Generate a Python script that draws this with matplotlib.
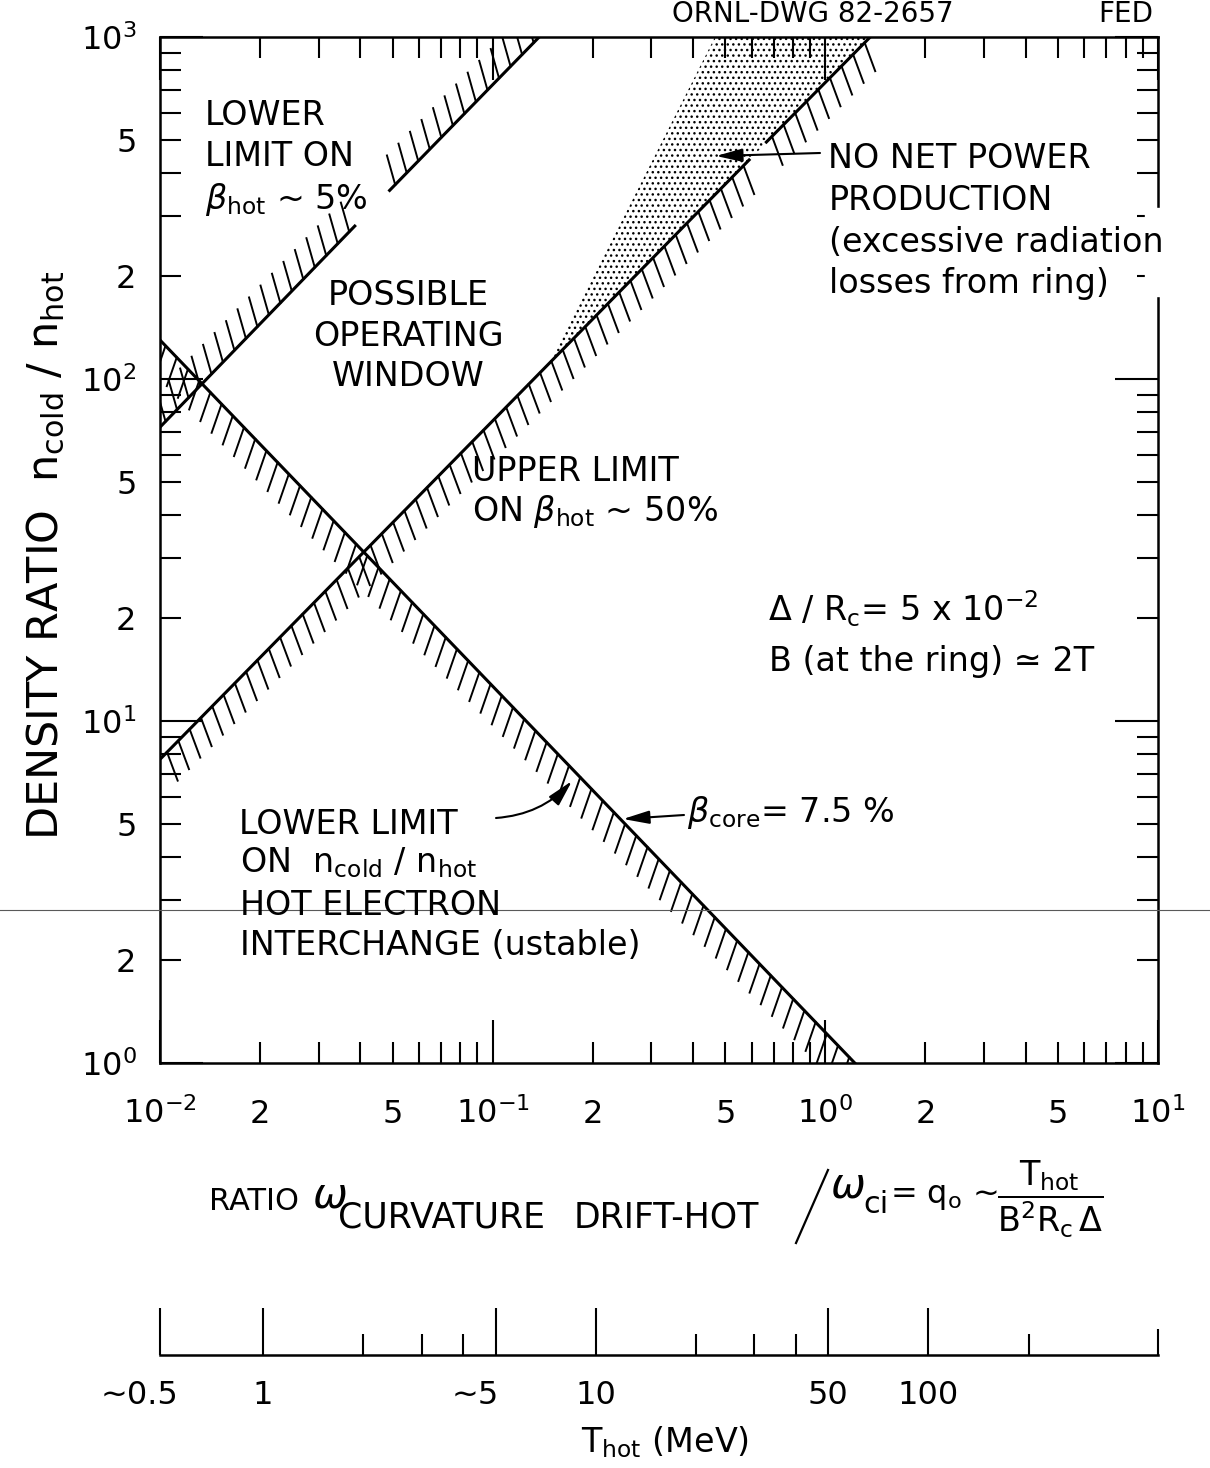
import matplotlib
matplotlib.use('Agg')
import matplotlib.pyplot as plt
from matplotlib import patheffects
from matplotlib.patches import Rectangle
from matplotlib.lines import Line2D

plt.rcParams['font.family'] = ['DejaVu Sans']
plt.rcParams['mathtext.fontset'] = 'dejavusans'
plt.rcParams['hatch.linewidth'] = 1.0

W, H = 1210, 1468

# boundary lines: x = ratio, y = n_cold/n_hot
lowbeta_x = [[0.0100, 0.0385], [0.049, 0.138]]      # beta_hot ~ 5 %
lowbeta_y = [[72.3, 280.0], [356.0, 1000.0]]
highbeta_x = [[0.0101, 0.59], [0.665, 1.365]]       # beta_hot ~ 50 %
highbeta_y = [[7.8, 437.0], [493.0, 1000.0]]
core_x = [0.0100, 1.226]                             # beta_core = 7.5 %
core_y = [130.0, 1.0]
# stippled wedge (no net power production)
nopower_x = [0.149, 0.466, 1.365]
nopower_y = [112.0, 1000.0, 1000.0]

x_major = [1e-2, 1e-1, 1e0, 1e1]
x_major_lbl = ['$10^{-2}$', '$10^{-1}$', '$10^{0}$', '$10^{1}$']
y_major = [1, 10, 100, 1000]
y_major_lbl = ['$10^{0}$', '$10^{1}$', '$10^{2}$', '$10^{3}$']
minor_lbl = {2: '2', 5: '5'}

# lower scale: T_hot (MeV) ~ 49 * ratio
t_factor = 49.0
t_major = [0.49, 1, 5, 10, 50, 100]
t_major_lbl = ['~0.5', '1', '~5', '10', '50', '100']
t_minor = [2, 3, 4, 20, 30, 40, 200, 490]


def fx(px):
    return px / W


def fy(py):
    return 1 - py / H


def put(px, py, s, size=24, **kw):
    kw.setdefault('va', 'baseline')
    return fig.text(fx(px), fy(py), s, fontsize=size, **kw)


def arrow(x0, y0, x1, y1, rad=0.0):
    ax.annotate('', xy=(x1, H - y1), xycoords='figure pixels',
                xytext=(x0, H - y0), textcoords='figure pixels',
                annotation_clip=False,
                arrowprops=dict(arrowstyle='-|>,head_length=0.8,head_width=0.2',
                                color='k', lw=1.5, mutation_scale=20,
                                shrinkA=0, shrinkB=0,
                                connectionstyle='arc3,rad=%s' % rad))


fig = plt.figure(figsize=(W / 100, H / 100), dpi=100)
ax = fig.add_axes([fx(160), fy(1063), (1158 - 160) / W, (1063 - 37) / H])
ax.set_xscale('log')
ax.set_yscale('log')
ax.set_xlim(1e-2, 1e1)
ax.set_ylim(1, 1e3)

ax.fill(nopower_x, nopower_y, facecolor='none', edgecolor='k',
        hatch='...', linewidth=0, zorder=1)

pe_low = [patheffects.withTickedStroke(angle=60, spacing=11.5, length=1.9, linewidth=1.4)]
pe_high = [patheffects.withTickedStroke(angle=-115, spacing=11.5, length=1.9, linewidth=1.4)]
pe_core = [patheffects.withTickedStroke(angle=-63, spacing=11.5, length=1.9, linewidth=1.4)]

for xs, ys in zip(lowbeta_x, lowbeta_y):
    ax.plot(xs, ys, color='k', lw=2.2, path_effects=pe_low, zorder=3)
for xs, ys in zip(highbeta_x, highbeta_y):
    ax.plot(xs, ys, color='k', lw=2.2, path_effects=pe_high, zorder=3)
ax.plot(core_x, core_y, color='k', lw=2.2, path_effects=pe_core, zorder=3)

# ticks
x_minor = [m * 10.0 ** e for e in (-2, -1, 0) for m in range(2, 10)]
y_minor = [m * 10.0 ** e for e in (0, 1, 2) for m in range(2, 10)]
ax.set_xticks(x_major, x_major_lbl)
ax.set_xticks(x_minor, [minor_lbl.get(m, '') for e in (-2, -1, 0) for m in range(2, 10)], minor=True)
ax.set_yticks(y_major, y_major_lbl)
ax.set_yticks(y_minor, [minor_lbl.get(m, '') for e in (0, 1, 2) for m in range(2, 10)], minor=True)
ax.tick_params(which='both', direction='in', top=True, right=True, width=1.5, labelsize=23)
ax.tick_params(which='major', length=31)
ax.tick_params(which='minor', length=15)
ax.tick_params(axis='x', which='both', pad=43)
ax.tick_params(axis='y', which='both', pad=17)
plt.setp(ax.get_xticklabels(which='both'), va='baseline')
for sp in ax.spines.values():
    sp.set_linewidth(1.8)

# T_hot scale below
ax2 = fig.add_axes([fx(160), fy(1355), (1158 - 160) / W, 0.02])
ax2.set_xscale('log')
ax2.set_xlim(0.01 * t_factor, 10 * t_factor)
ax2.set_ylim(0, 1)
ax2.patch.set_visible(False)
for side in ('top', 'left', 'right'):
    ax2.spines[side].set_visible(False)
ax2.spines['bottom'].set_linewidth(1.8)
ax2.set_yticks([])
ax2.set_xticks(t_major, [''] * len(t_major))
ax2.set_xticks(t_minor, [''] * len(t_minor), minor=True)
ax2.tick_params(which='both', direction='in', width=1.5)
ax2.tick_params(which='major', length=34)
ax2.tick_params(which='minor', length=15)
ax2.xaxis.get_minor_ticks()[-1].tick1line.set_markersize(19)
for t, s in zip(t_major, t_major_lbl):
    dx = -15 if s.startswith('~') else 0
    ax2.annotate(s, xy=(t, 0), xycoords=ax2.get_xaxis_transform(),
                 xytext=(dx, -35), textcoords='offset points',
                 ha='center', va='baseline', fontsize=23)

# header
put(672, 22, 'ORNL-DWG 82-2657', size=20)
put(1098, 22, 'FED', size=20)

# labels inside the plot
put(205, 125, 'LOWER')
put(205, 166, 'LIMIT ON')
put(205, 209, r'$\beta_{\mathrm{hot}}$ ~ 5%')

put(408, 305, 'POSSIBLE', ha='center')
put(408, 346, 'OPERATING', ha='center')
put(408, 386, 'WINDOW', ha='center')

put(472, 481, 'UPPER LIMIT')
put(472, 521, r'ON $\beta_{\mathrm{hot}}$ ~ 50%')

put(828, 168, 'NO NET POWER')
put(829, 210, 'PRODUCTION')
put(829, 252, '(excessive radiation')
put(829, 293, 'losses from ring)')
fig.add_artist(Rectangle((fx(1145), fy(296)), 35 / W, 88 / H,
                         transform=fig.transFigure, color='w', zorder=2.5))
arrow(820, 153, 716, 156)

put(768, 621, r'$\Delta$ / R$_{\mathrm{c}}$= 5 x 10$^{-2}$')
put(769, 671, 'B (at the ring) \u2243 2T')

put(239, 834, 'LOWER LIMIT')
put(240, 872, r'ON  n$_{\mathrm{cold}}$ / n$_{\mathrm{hot}}$')
put(240, 915, 'HOT ELECTRON')
put(240, 955, 'INTERCHANGE (ustable)')
arrow(496, 818, 572, 781, rad=0.2)

put(687, 822, r'$\beta_{\mathrm{core}}$= 7.5 %')
arrow(684, 815, 623, 819)

# y title
put(46, 555, r'DENSITY RATIO  n$_{\mathrm{cold}}$ / n$_{\mathrm{hot}}$', size=31,
    rotation=90, ha='center', va='center')

# x title, set piece by piece like the lettering on the sheet
put(209, 1210, 'RATIO', size=22)
put(312, 1208, r'$\omega$', size=30)
put(338, 1228, 'CURVATURE', size=25)
put(574, 1228, 'DRIFT-HOT', size=25)
fig.add_artist(Line2D([fx(796), fx(828)], [fy(1243), fy(1170)],
                      transform=fig.transFigure, color='k', lw=1.6))
put(830, 1198, r'$\omega$', size=30)
put(863, 1213, 'ci', size=22)
put(890, 1203, r'= q$_{\mathrm{o}}$ ~', size=23)
put(1050, 1199, r'$\dfrac{\mathrm{T_{hot}}}{\mathrm{B^2 R_c}\,\Delta}$', size=24,
    ha='center', va='center')

put(665, 1452, r'T$_{\mathrm{hot}}$ (MeV)', ha='center', size=24)

# scanner streak across the sheet
fig.add_artist(Line2D([0, 1], [fy(910), fy(910)], transform=fig.transFigure,
                      color='0.35', lw=0.8))

fig.savefig('out.png', dpi=100)
